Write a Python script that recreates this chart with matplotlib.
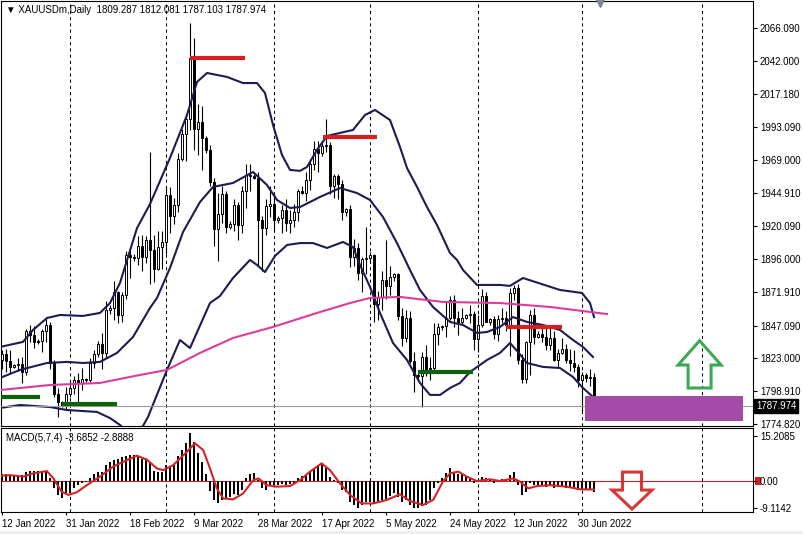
import matplotlib
matplotlib.use("Agg")
import matplotlib.pyplot as plt
from matplotlib.patches import Polygon, Rectangle
import numpy as np

plt.rcParams['font.family'] = ['Liberation Sans', 'DejaVu Sans']
plt.rcParams['font.size'] = 7

# Daily bars, index 0 = 12 Jan 2022 (broker also prints short Sunday bars)
opens = [1822, 1826, 1821, 1817, 1818, 1819, 1813, 1843, 1840, 1835, 1836, 1843,
         1848, 1820, 1797, 1791, 1789, 1797, 1801, 1807, 1805, 1808, 1807, 1820,
         1826, 1834, 1827, 1859, 1860, 1872, 1855, 1870, 1899, 1898, 1897, 1906,
         1898, 1910, 1903, 1889, 1905, 1909, 1943, 1928, 1936, 1970, 1988, 1999,
         2044, 1992, 1997, 1985, 1976, 1953, 1918, 1929, 1944, 1920, 1922, 1936,
         1921, 1946, 1958, 1957, 1956, 1925, 1919, 1935, 1937, 1925, 1926, 1932,
         1923, 1925, 1931, 1946, 1945, 1954, 1966, 1977, 1974, 1979, 1980, 1950,
         1957, 1951, 1931, 1933, 1898, 1904, 1886, 1896, 1897, 1899, 1863, 1868,
         1881, 1876, 1883, 1885, 1854, 1838, 1853, 1821, 1811, 1810, 1824, 1815,
         1816, 1841, 1846, 1847, 1853, 1866, 1853, 1850, 1853, 1855, 1856, 1837,
         1848, 1869, 1850, 1852, 1841, 1852, 1853, 1848, 1871, 1875, 1822, 1808,
         1835, 1855, 1839, 1841, 1839, 1833, 1838, 1822, 1827, 1830, 1822, 1820,
         1817, 1807, 1811, 1809, 1809.287]
highs = [1829, 1830, 1829, 1819, 1823, 1824, 1845, 1848, 1847, 1837, 1845, 1853,
         1850, 1822, 1801, 1792, 1802, 1807, 1810, 1812, 1816, 1809, 1823, 1829,
         1836, 1842, 1865, 1862, 1880, 1873, 1872, 1902, 1903, 1900, 1913, 1914,
         1913, 1975, 1914, 1917, 1917, 1950, 1949, 1941, 1974, 1992, 2002, 2070,
         2059, 2010, 2009, 1987, 1980, 1956, 1945, 1950, 1946, 1924, 1940, 1938,
         1950, 1966, 1966, 1959, 1960, 1928, 1940, 1950, 1945, 1928, 1936, 1940,
         1932, 1937, 1948, 1950, 1960, 1970, 1983, 1983, 1982, 1999, 1982, 1959,
         1959, 1954, 1934, 1936, 1911, 1908, 1898, 1920, 1901, 1900, 1873, 1887,
         1910, 1891, 1886, 1886, 1860, 1859, 1858, 1828, 1813, 1828, 1833, 1824,
         1849, 1849, 1848, 1865, 1869, 1870, 1858, 1860, 1856, 1862, 1858, 1855,
         1874, 1872, 1853, 1854, 1855, 1860, 1858, 1875, 1877, 1878, 1826, 1836,
         1859, 1860, 1843, 1846, 1846, 1847, 1843, 1830, 1838, 1834, 1830, 1829,
         1819, 1813, 1812, 1815, 1812.081]
lows = [1815, 1813, 1812, 1816, 1814, 1805, 1811, 1835, 1831, 1834, 1828, 1835,
        1815, 1795, 1780, 1787, 1786, 1795, 1797, 1789, 1800, 1806, 1806, 1816,
        1824, 1815, 1823, 1856, 1851, 1849, 1850, 1867, 1882, 1895, 1892, 1887,
        1893, 1878, 1879, 1888, 1889, 1900, 1915, 1922, 1931, 1968, 1968, 1991,
        1976, 1973, 1962, 1974, 1950, 1906, 1895, 1923, 1915, 1918, 1917, 1910,
        1915, 1934, 1946, 1955, 1892, 1887, 1914, 1927, 1917, 1923, 1915, 1917,
        1915, 1920, 1924, 1944, 1939, 1947, 1962, 1960, 1972, 1975, 1944, 1941,
        1940, 1925, 1928, 1890, 1891, 1881, 1872, 1885, 1894, 1850, 1851, 1859,
        1867, 1870, 1880, 1851, 1832, 1835, 1820, 1798, 1808, 1787, 1810, 1807,
        1812, 1833, 1844, 1839, 1851, 1846, 1840, 1848, 1852, 1849, 1829, 1828,
        1846, 1850, 1848, 1837, 1836, 1849, 1843, 1825, 1866, 1819, 1805, 1805,
        1811, 1834, 1838, 1835, 1829, 1829, 1821, 1817, 1826, 1820, 1814, 1813,
        1802, 1784, 1806, 1803, 1787.103]
closes = [1826, 1821, 1817, 1818, 1819, 1813, 1843, 1840, 1835, 1836, 1843, 1848,
          1820, 1797, 1791, 1789, 1797, 1801, 1807, 1805, 1808, 1807, 1820, 1826,
          1834, 1827, 1859, 1860, 1872, 1855, 1870, 1899, 1898, 1897, 1906, 1898,
          1910, 1903, 1889, 1905, 1909, 1943, 1928, 1936, 1970, 1988, 1999, 2044,
          1992, 1997, 1985, 1976, 1953, 1918, 1929, 1944, 1920, 1922, 1936, 1921,
          1946, 1958, 1957, 1956, 1925, 1919, 1935, 1937, 1925, 1926, 1932, 1923,
          1925, 1931, 1946, 1945, 1954, 1966, 1977, 1974, 1979, 1980, 1950, 1957,
          1951, 1931, 1933, 1898, 1904, 1886, 1896, 1897, 1899, 1863, 1868, 1881,
          1876, 1883, 1885, 1854, 1838, 1853, 1821, 1811, 1810, 1824, 1815, 1816,
          1841, 1846, 1847, 1853, 1866, 1853, 1850, 1853, 1855, 1856, 1837, 1848,
          1869, 1850, 1852, 1841, 1852, 1853, 1848, 1871, 1875, 1822, 1808, 1835,
          1855, 1839, 1841, 1839, 1833, 1838, 1822, 1827, 1830, 1822, 1820, 1817,
          1807, 1811, 1809, 1809.287, 1787.974]

date_labels = ["12 Jan 2022", "31 Jan 2022", "18 Feb 2022", "9 Mar 2022", "28 Mar 2022",
               "17 Apr 2022", "5 May 2022", "24 May 2022", "12 Jun 2022", "30 Jun 2022"]
date_label_bars = [0, 16, 32, 48, 64, 80, 96, 112, 128, 144]
month_start_bars = [17, 41, 68, 92, 119, 145, 175]

# Bollinger bands
bb_up_bars = [-0.5, 5.25, 7.75, 11.25, 14.5, 20.25, 24.5, 27, 29.5, 31.5, 33.75, 37, 42,
              46.25, 48.75, 51.25, 56.25, 60.25, 63.75, 65.75, 67.75, 70, 72, 74.5, 76.25,
              78.75, 81.25, 84.5, 87.75, 90.75, 93.25, 97, 99.5, 101.25, 103.75, 106.25,
              108.75, 112, 113.75, 115.25, 118.75, 124.5, 127, 130.25, 139.5, 145, 147, 148]
bb_up = [1831.5, 1835.2, 1844.0, 1852.8, 1855.0, 1854.3, 1856.5, 1863.8, 1878.6, 1897.7,
         1918.9, 1936.6, 1970.5, 2002.1, 2026.4, 2033.0, 2030.1, 2025.6, 2025.6, 2018.3,
         1994.8, 1972.7, 1961.7, 1961.0, 1963.9, 1976.4, 1986.7, 1988.9, 1991.1, 2002.1,
         2005.8, 1998.4, 1978.6, 1963.1, 1949.2, 1934.4, 1921.2, 1900.6, 1895.5, 1888.1,
         1877.1, 1877.1, 1876.4, 1882.2, 1873.4, 1871.2, 1863.8, 1853.5]
bb_mid_bars = [-0.5, 4.5, 11.25, 16.25, 20.25, 24.5, 28.75, 32.75, 37, 38.75, 42, 45.25,
               49.5, 52.75, 57.75, 62.75, 66.25, 68.75, 72, 74.5, 79.5, 84.5, 88.75, 92,
               95.25, 98.75, 102, 104.5, 107.75, 112, 115.25, 118.75, 121.25, 124.5,
               127.75, 131.25, 135.25, 139.5, 142.75, 145.25, 147.75]
bb_mid = [1808.7, 1814.6, 1819.7, 1820.5, 1819.7, 1820.5, 1827.1, 1838.8, 1860.2, 1867.5,
          1889.6, 1916.0, 1938.1, 1949.2, 1952.1, 1960.2, 1950.6, 1939.6, 1933.7, 1934.4,
          1941.8, 1948.4, 1944.7, 1939.6, 1927.1, 1907.9, 1888.1, 1873.4, 1860.9, 1849.9,
          1847.6, 1841.8, 1842.5, 1846.2, 1853.5, 1849.9, 1847.6, 1844.0, 1836.6, 1831.5,
          1824.1]
bb_low_bars = [-0.5, 4.5, 12, 16.25, 23.75, 27, 29.5, 32.25, 35.25, 36.5, 41.25, 44.5, 47,
               52, 54.5, 57.75, 62, 63.75, 65.75, 68.25, 71.25, 74.5, 77.75, 81.25, 85.25,
               87.75, 89.5, 92, 94.5, 97.75, 101.25, 104.5, 107, 109.5, 112, 114.5, 117,
               121.25, 124.5, 127, 129, 131.25, 135.25, 139.5, 142.75, 145.25, 147.5]
bb_low = [1786.6, 1788.8, 1787.3, 1785.1, 1783.7, 1779.2, 1774.1, 1766.0, 1773.4, 1780.0,
          1814.6, 1836.6, 1830.7, 1863.8, 1869.0, 1882.2, 1895.5, 1891.8, 1886.6, 1898.4,
          1906.5, 1907.9, 1907.9, 1904.3, 1908.7, 1905.0, 1891.8, 1875.6, 1856.5, 1834.4,
          1821.9, 1805.0, 1796.2, 1796.2, 1801.3, 1805.0, 1813.1, 1821.9, 1827.1, 1834.4,
          1827.8, 1819.7, 1816.8, 1816.0, 1809.4, 1801.3, 1795.4]

# long moving average (pink)
ma_bars = [-0.5, 12, 24.5, 34.5, 41.25, 49.5, 57.75, 67.75, 78.75, 87, 92, 99.5, 110.25,
           124.5, 137, 151.25]
ma_vals = [1799.8, 1803.5, 1805.0, 1810.9, 1814.6, 1827.1, 1838.1, 1846.2, 1856.5, 1863.8,
           1867.5, 1868.3, 1864.6, 1863.8, 1860.9, 1855.7]

# MACD(5,7,4) histogram per bar and signal line
macd_hist = [2.4, 2.4, 2.0, 1.8, 1.7, 2.0, 3.0, 3.3, 3.5, 3.4, 3.3, 3.5,
             1.0, -2.5, -4.8, -5.8, -4.5, -4.2, -2.5, -1.2, -0.6, -0.3, 1.2, 2.4,
             3.0, 3.2, 5.6, 6.5, 7.2, 7.5, 8.0, 8.6, 8.8, 8.7, 8.5, 7.5,
             7.0, 6.4, 3.5, 3.0, 3.2, 5.3, 5.0, 5.3, 8.5, 10.5, 12.8, 16.4,
             13.3, 9.5, 6.5, 2.5, -3.5, -6.5, -7.6, -6.4, -6.0, -5.5, -4.5, -4.7,
             -3.0, 1.0, 2.3, 2.6, 0.5, -2.5, -3.0, -1.5, -1.5, -1.2, -1.0, -1.2,
             -1.0, -0.8, 1.2, 1.8, 2.0, 3.5, 4.5, 5.5, 6.0, 4.5, 1.5, 0.3,
             -0.5, -3.0, -3.6, -7.0, -8.0, -9.3, -8.0, -7.2, -7.0, -7.8, -7.0, -6.5,
             -6.0, -5.0, -4.2, -5.5, -7.0, -6.5, -8.0, -9.3, -9.0, -8.5, -8.0, -6.5,
             -2.5, -0.5, 0.9, 2.6, 4.3, 3.2, 2.5, 2.3, 1.5, 0.8, -0.5, 0.5,
             1.5, 1.0, 0.8, -0.8, 0.5, 0.8, 0.5, 2.0, 3.2, -1.4, -4.7, -3.6,
             -0.5, -1.4, -1.3, -1.4, -1.9, -1.6, -2.2, -1.9, -1.8, -2.2, -2.5, -2.8,
             -3.2, -3.0, -3.0, -3.1, -3.6852]
sig_bars = [0, 2, 5.3, 7.8, 11.2, 12.8, 14.9, 16.6, 18.7, 21.2, 24.5, 27.8, 31.2, 33.7,
            36.2, 38.7, 40.3, 42.8, 46.2, 48.25, 50.3, 52, 53.7, 55.3, 57.8, 60.3, 62.8,
            64.1, 66.2, 68.7, 72, 74.5, 77, 79.9, 82, 84.5, 87, 89.9, 92.8, 96.2, 99.5,
            102, 105.3, 107.8, 110.3, 112, 114.1, 116.2, 118.7, 122, 124.5, 127.8, 129.5,
            131.6, 133.7, 137, 141.2, 144.5, 148]
sig_vals = [1.8, 2.0, 1.5, 2.6, 3.4, 1.0, -3.6, -4.7, -3.8, -1.4, 1.5, 4.9, 7.1, 8.6,
            7.3, 4.3, 3.7, 5.4, 9.9, 12.8, 10.5, 4.3, -2.5, -5.9, -6.2, -4.2, 0.3,
            0.9, -1.4, -1.9, -1.7, 0.3, 3.2, 6.0, 3.7, -0.8, -4.7, -7.6, -7.6, -6.4, -4.5,
            -6.8, -8.1, -6.4, 0.0, 2.6, 3.2, 1.5, 0.0, 0.6, 0.0, 0.9, -0.2,
            -2.5, -1.7, -1.4, -1.9, -2.8, -2.8888]

price_ticks = [2066.090, 2042.000, 2017.180, 1993.090, 1969.000, 1944.910, 1920.090,
               1896.000, 1871.910, 1847.090, 1823.000, 1798.910, 1774.820]
macd_ticks = [15.2085, 0.0, -9.1142]

# chart objects: (first bar, last bar, price)
red_levels = [(47, 60.75, 2043.8), (80.25, 93.75, 1985.9), (126, 140, 1846.4)]
green_levels = [(-0.5, 9.5, 1794.9), (15, 28.75, 1789.3), (104, 117.75, 1813.3)]

W, H = 804, 534
fig = plt.figure(figsize=(W / 100, H / 100), dpi=100)
ax = fig.add_axes([1 / W, 1 - 426 / H, 752 / W, 425 / H])
ax2 = fig.add_axes([1 / W, 1 - 512 / H, 752 / W, 84 / H])

xmin, xmax = -0.25, 187.75
n = len(closes)
idx = np.arange(n)
o = np.array(opens, float)
h = np.array(highs, float)
l = np.array(lows, float)
c = np.array(closes, float)
up = c >= o

for b in month_start_bars:
    for a in (ax, ax2):
        a.axvline(b, color='black', lw=0.75, ls=(0, (3, 3)), zorder=1)

# candles
ax.vlines(idx, l, h, color='black', lw=0.8, zorder=2)
body_lo = np.minimum(o, c)
body_h = np.maximum(np.abs(c - o), 0.5)
ax.bar(idx[up], body_h[up], bottom=body_lo[up], width=0.55, color='white',
       edgecolor='black', linewidth=0.7, zorder=3)
ax.bar(idx[~up], body_h[~up], bottom=body_lo[~up], width=0.55, color='black',
       edgecolor='black', linewidth=0.7, zorder=3)

band_col = '#1c1c50'
ax.plot(bb_up_bars, bb_up, color=band_col, lw=1.5, zorder=4)
ax.plot(bb_mid_bars, bb_mid, color=band_col, lw=1.5, zorder=4)
ax.plot(bb_low_bars, bb_low, color=band_col, lw=1.5, zorder=4)
ax.plot(ma_bars, ma_vals, color='#dc3c9c', lw=1.5, zorder=4)

for x0, x1, p in red_levels:
    ax.plot([x0, x1], [p, p], color='#d81e1e', lw=3, solid_capstyle='butt', zorder=5)
for x0, x1, p in green_levels:
    ax.plot([x0, x1], [p, p], color='#0b640b', lw=3, solid_capstyle='butt', zorder=5)

last = closes[-1]
ax.axhline(last, color='#9a9aa6', lw=0.8, zorder=4)
ax.add_patch(Rectangle((145.75, 1777.3), 39.5, 18.1, facecolor='#a34ba6',
                       edgecolor='none', zorder=6))


def block_arrow(a, xc, y_tail, y_tip, y_head, shaft_w, head_w, color):
    pts = [(xc - shaft_w / 2, y_tail), (xc - shaft_w / 2, y_head), (xc - head_w / 2, y_head),
           (xc, y_tip), (xc + head_w / 2, y_head), (xc + shaft_w / 2, y_head),
           (xc + shaft_w / 2, y_tail)]
    a.add_patch(Polygon(pts, closed=True, fill=False, edgecolor=color, lw=2.2,
                        joinstyle='miter', zorder=6))


block_arrow(ax, 174.4, 1801.3, 1836.1, 1818.2, 5.75, 10.75, '#3ca855')
block_arrow(ax2, 157.5, 3.05, -9.5, -3.05, 4.75, 10.0, '#d43a3a')

ax.set_xlim(xmin, xmax)
ax.set_ylim(1773.35, 2085.95)
ax.yaxis.tick_right()
ax.set_yticks(price_ticks)
ax.set_yticklabels([f"{v:.3f}" for v in price_ticks])
ax.tick_params(axis='y', length=3, width=0.8, pad=2, labelsize=7)
ax.set_xticks([])
ax.text(1.004, last, f"{last:.3f}", transform=ax.get_yaxis_transform(), ha='left',
        va='center', color='white', fontsize=7, zorder=10, clip_on=False,
        bbox=dict(boxstyle='square,pad=0.18', fc='black', ec='black'))
ax.text(0.006, 0.978, "\u25BC XAUUSDm,Daily  " + " ".join(f"{v:.3f}" for v in
        (opens[-1], highs[-1], lows[-1], closes[-1])), transform=ax.transAxes,
        ha='left', va='center', fontsize=7)
ax.plot([149.5], [2084.6], marker='v', ms=6, color='#7f8490', clip_on=False, zorder=7)

# MACD panel
ax2.bar(idx, macd_hist, width=0.55, color='black', zorder=3)
ax2.axhline(0, color='#d02020', lw=0.8, zorder=2)
ax2.plot(sig_bars, sig_vals, color='#d42424', lw=1.5, zorder=4)
ax2.set_xlim(xmin, xmax)
ax2.set_ylim(-10.5, 18.0)
ax2.yaxis.tick_right()
ax2.set_yticks(macd_ticks)
ax2.set_yticklabels(["15.2085", "0.00", "-9.1142"])
ax2.tick_params(axis='y', length=3, width=0.8, pad=2, labelsize=7)
ax2.add_patch(Rectangle((1.002, -1.3), 0.008, 2.6, transform=ax2.get_yaxis_transform(),
                        facecolor='#d02020', edgecolor='none', clip_on=False, zorder=1))
ax2.set_xticks(date_label_bars)
ax2.set_xticklabels(date_labels)
for t in ax2.get_xticklabels():
    t.set_horizontalalignment('left')
ax2.tick_params(axis='x', length=2, width=0.8, pad=3, labelsize=7)
ax2.text(0.006, 0.88, "MACD(5,7,4) -3.6852 -2.8888", transform=ax2.transAxes,
         ha='left', va='center', fontsize=7)

for a in (ax, ax2):
    for s in a.spines.values():
        s.set_linewidth(0.8)
        s.set_color('black')

fig.patches.append(Rectangle((0, 0), 1, 3 / H, transform=fig.transFigure,
                             facecolor='#eeeeee', edgecolor='none'))
fig.savefig("out.png", dpi=100)
